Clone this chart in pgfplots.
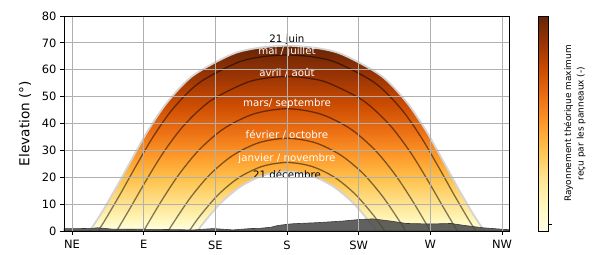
\documentclass[border=0pt]{standalone}
\usepackage{fontspec}
\setmainfont{DejaVu Sans}
\usepackage{pgfplots}
\pgfplotsset{compat=1.18}
\definecolor{c0}{RGB}{255,255,229}
\definecolor{c1}{RGB}{255,247,188}
\definecolor{c2}{RGB}{254,227,145}
\definecolor{c3}{RGB}{254,196,79}
\definecolor{c4}{RGB}{254,153,41}
\definecolor{c5}{RGB}{236,112,20}
\definecolor{c6}{RGB}{204,76,2}
\definecolor{c7}{RGB}{153,52,4}
\definecolor{c8}{RGB}{102,37,6}
\definecolor{gridc}{RGB}{176,176,176}
\definecolor{edgec}{RGB}{212,212,212}
\definecolor{horc}{RGB}{70,70,70}
\pgfdeclareverticalshading{ylorbr}{100bp}{color(0bp)=(c0); color(25bp)=(c0); color(27.9bp)=(c1); color(32.25bp)=(c2); color(38.78bp)=(c3); color(45.31bp)=(c4); color(51.84bp)=(c5); color(59.09bp)=(c6); color(67.07bp)=(c7); color(75bp)=(c8); color(100bp)=(c8)}
\begin{document}
\begin{tikzpicture}
\path[use as bounding box] (-64bp,-24bp) rectangle (541bp,231bp);
\begin{axis}[
  at={(0,0)}, anchor=south west,
  scale only axis, width=445bp, height=215bp,
  xmin=40, xmax=319.4, ymin=0, ymax=80,
  xtick={45,90,135,180,225,270,315}, xticklabels={NE,E,SE,S,SW,W,NW},
  ytick={0,10,20,30,40,50,60,70,80},
  grid=major, major grid style={gridc, line width=0.8bp},
  axis on top,
  tick pos=left,
  tick align=outside, major tick length=4bp,
  tick style={black, line width=0.8bp},
  axis line style={black, line width=0.8bp},
  tick label style={font=\fontsize{11.5}{13}\selectfont},
  xticklabel style={yshift=-2bp},
  /pgf/number format/assume math mode=true,
  ylabel={Elevation (°)},
  every axis y label/.style={at={(axis description cs:-0.0876,0.5)},rotate=90,anchor=center,font=\fontsize{13.7}{16}\selectfont},
  colormap={ylorbrmap}{rgb255=(255,255,229) rgb255=(255,247,188) rgb255=(254,227,145) rgb255=(254,196,79) rgb255=(254,153,41) rgb255=(236,112,20) rgb255=(204,76,2) rgb255=(153,52,4) rgb255=(102,37,6)},
  colorbar,
  point meta min=0, point meta max=1,
  colorbar style={
    at={(parent axis.north east)}, anchor=north west, xshift=20.5bp,
    scale only axis, width=10bp, height=215bp,
    xmajorgrids=false, ymajorgrids=false,
    ytick={0.03}, yticklabels={},
    ytick pos=right, tick align=outside, major tick length=4bp,
    tick style={black, line width=0.8bp},
    axis line style={black, line width=0.8bp},
    ylabel={Rayonnement théorique maximum\\reçu par les panneaux (-)},
    every axis y label/.style={at={(axis description cs:3.675,0.5)},rotate=90,anchor=center,align=center,font=\fontsize{9}{12.5}\selectfont},
  },
]
% band: area under 21 June, shaded by elevation
\addplot[smooth, draw=none, shading=ylorbr, shade] coordinates {
(56.1,0) (63.1,6.28) (72.8,16.19) (82.5,26.63) (92.7,37.31) (104.8,47.87) (120.8,57.74) (144.9,65.62) (161.3,68.08) (180,68.94) (198.7,68.08) (215.1,65.62) (239.2,57.74) (255.2,47.87) (267.3,37.31) (277.5,26.63) (287.2,16.19) (296.9,6.28) (303.9,0)
} \closedcycle;
% area under 21 December cut out in white
\addplot[smooth, draw=none, fill=white] coordinates {
(123.9,0) (127.3,2.78) (138.7,10.60) (151.4,16.74) (165.3,20.70) (180,22.06) (194.7,20.70) (208.6,16.74) (221.3,10.60) (232.7,2.78) (236.1,0)
} \closedcycle;
% month curves
\addplot[smooth, black, opacity=0.5, line width=1.3bp] coordinates {
(61.35,0) (65.5,3.80) (75.45,13.87) (85.4,24.41) (96.0,35.09) (108.45,45.54) (124.8,55.11) (148.2,62.51) (163.3,64.75) (180,65.5) (196.7,64.75) (211.8,62.51) (235.2,55.11) (251.55,45.54) (264.0,35.09) (274.6,24.41) (284.55,13.87) (294.5,3.80) (298.65,0)
};
\addplot[smooth, black, opacity=0.5, line width=1.3bp] coordinates {
(73.05,0) (81.4,8.38) (91.8,19.04) (102.9,29.64) (115.9,39.72) (132.3,48.58) (153.8,55.04) (166.5,56.86) (180,57.5) (193.5,56.86) (206.2,55.04) (227.7,48.58) (244.1,39.72) (257.1,29.64) (268.2,19.04) (278.6,8.38) (286.95,0)
};
\addplot[smooth, black, opacity=0.5, line width=1.3bp] coordinates {
(90,0) (100.6,10.64) (112.0,20.90) (125.0,30.29) (140.5,38.15) (159.1,43.55) (180,45.5) (200.9,43.55) (219.5,38.15) (235.0,30.29) (248.0,20.90) (259.4,10.64) (270,0)
};
\addplot[smooth, black, opacity=0.5, line width=1.3bp] coordinates {
(105.5,0) (108.3,2.72) (119.5,12.50) (131.9,21.19) (146.2,28.21) (162.4,32.86) (180,34.5) (197.6,32.86) (213.8,28.21) (228.1,21.19) (240.5,12.50) (251.7,2.72) (254.5,0)
};
\addplot[smooth, black, opacity=0.5, line width=1.3bp] coordinates {
(118.65,0) (125.2,5.48) (136.9,13.55) (150.0,19.93) (164.55,24.06) (180,25.5) (195.45,24.06) (210.0,19.93) (223.1,13.55) (234.8,5.48) (241.35,0)
};
% edges of the band (21 June, 21 December)
\addplot[smooth, edgec, line width=1.8bp] coordinates {
(56.1,0) (63.1,6.28) (72.8,16.19) (82.5,26.63) (92.7,37.31) (104.8,47.87) (120.8,57.74) (144.9,65.62) (161.3,68.08) (180,68.94) (198.7,68.08) (215.1,65.62) (239.2,57.74) (255.2,47.87) (267.3,37.31) (277.5,26.63) (287.2,16.19) (296.9,6.28) (303.9,0)
};
\addplot[smooth, edgec, line width=1.8bp] coordinates {
(123.9,0) (127.3,2.78) (138.7,10.60) (151.4,16.74) (165.3,20.70) (180,22.06) (194.7,20.70) (208.6,16.74) (221.3,10.60) (232.7,2.78) (236.1,0)
};
% horizon profile
\addplot[fill=horc, fill opacity=0.85, draw=horc!80!black, line width=0.6bp] coordinates {
(40,0.9) (50,0.9) (58,1.0) (61,1.2) (65,1.0) (70,0.7) (100,0.6) (121,0.4) (134,0.9) (146,0.4) (157,0.9) (163,1.0) (170,1.4) (174,2.0) (180,2.5) (184,2.7) (195,3.0) (199,3.1) (215,3.7) (226,4.3) (234,4.5) (245,3.7) (255,2.8) (270,2.6) (283,2.8) (291,2.1) (303,1.2) (316,0.6) (319.4,0.5)
} \closedcycle;
% labels
\node[font=\fontsize{10.3}{12}\selectfont, text=black] at (axis cs:180,71.1) {21 juin};
\node[font=\fontsize{10.3}{12}\selectfont, text=white] at (axis cs:180,66.6) {mai / juillet};
\node[font=\fontsize{10.3}{12}\selectfont, text=white] at (axis cs:180,58.8) {avril / août};
\node[font=\fontsize{10.3}{12}\selectfont, text=white] at (axis cs:180,47.3) {mars/ septembre};
\node[font=\fontsize{10.3}{12}\selectfont, text=white] at (axis cs:180,35.7) {février / octobre};
\node[font=\fontsize{10.3}{12}\selectfont, text=white] at (axis cs:180,26.8) {janvier / novembre};
\node[font=\fontsize{10.3}{12}\selectfont, text=black] at (axis cs:180,21.2) {21 décembre};
\end{axis}
\end{tikzpicture}
\end{document}
